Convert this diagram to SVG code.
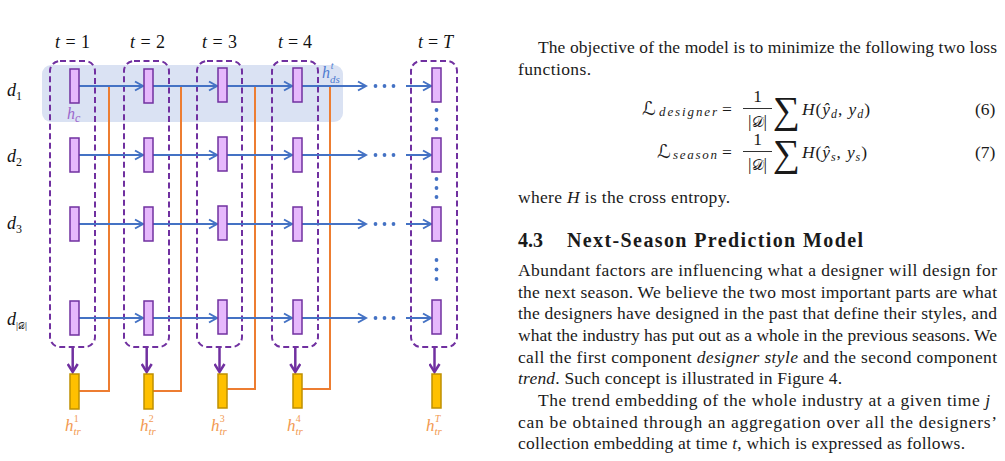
<svg xmlns="http://www.w3.org/2000/svg" width="1005" height="461" viewBox="0 0 1005 461">
<style>
.bg{fill:#dae2f3}
.box{fill:none;stroke:#7030a0;stroke-width:2;stroke-dasharray:6 3.5}
.nd{fill:#e6b8fc;stroke:#7030a0;stroke-width:1.5}
.tr{fill:#ffc000;stroke:#bf9000;stroke-width:1.5}
.ba{fill:none;stroke:#4472c4;stroke-width:2;marker-end:url(#ab)}
.pa{fill:none;stroke:#7030a0;stroke-width:2.5;marker-end:url(#ap)}
.ol{fill:none;stroke:#ed7d31;stroke-width:2}
.dot{fill:#4472c4}
.lab{font-family:"Liberation Serif",serif;font-size:18px;fill:#111}
.it{font-style:italic}
.hc{font-family:"Liberation Serif",serif;font-style:italic;fill:#9a66cc}
.hd{font-family:"Liberation Serif",serif;font-style:italic;fill:#4f7bd0}
.ht{font-family:"Liberation Serif",serif;font-style:italic;fill:#f29a52;font-size:17px}
.tx{font-family:"Liberation Serif",serif;font-size:17.5px;fill:#1a1a1a}
.hb{font-family:"Liberation Serif",serif;font-size:20px;font-weight:bold;fill:#1a1a1a}
.sc{font-family:"DejaVu Serif","DejaVu Sans",serif;fill:#1a1a1a}
</style>
<defs>
<marker id="ab" viewBox="-10 -6 12 12" refX="0" refY="0" markerWidth="12" markerHeight="12" markerUnits="userSpaceOnUse" orient="auto"><path d="M-8,-4.5 L0,0 L-8,4.5" fill="none" stroke="#4472c4" stroke-width="2"/></marker>
<marker id="ap" viewBox="-10 -6 12 12" refX="0" refY="0" markerWidth="12" markerHeight="12" markerUnits="userSpaceOnUse" orient="auto"><path d="M-8,-5 L0,0 L-8,5" fill="none" stroke="#7030a0" stroke-width="2.5"/></marker>
</defs>

<g id="designer-style-band"><rect class="bg" x="42" y="65" width="301" height="57" rx="9"/></g>

<g id="time-labels" class="lab">
<text x="55" y="48" textLength="35"><tspan class="it">t</tspan> = 1</text>
<text x="130" y="48" textLength="35"><tspan class="it">t</tspan> = 2</text>
<text x="202" y="48" textLength="35"><tspan class="it">t</tspan> = 3</text>
<text x="278" y="48" textLength="34"><tspan class="it">t</tspan> = 4</text>
<text x="418" y="48" textLength="35"><tspan class="it">t</tspan> = <tspan class="it">T</tspan></text>
</g>

<g id="designer-labels" class="lab">
<text x="7" y="96"><tspan class="it">d</tspan><tspan font-size="12" dy="4">1</tspan></text>
<text x="7" y="162"><tspan class="it">d</tspan><tspan font-size="12" dy="4">2</tspan></text>
<text x="7" y="229"><tspan class="it">d</tspan><tspan font-size="12" dy="4">3</tspan></text>
<text x="7" y="325"><tspan class="it">d</tspan><tspan font-size="10" dy="4">|<tspan class="sc" font-size="9">𝒟</tspan>|</tspan></text>
</g>

<g id="time-boxes">
<rect id="box-t1" class="box" x="50" y="61" width="45" height="286" rx="10"/>
<rect id="box-t2" class="box" x="124" y="61" width="45" height="286" rx="10"/>
<rect id="box-t3" class="box" x="197" y="61" width="45" height="286" rx="10"/>
<rect id="box-t4" class="box" x="272" y="61" width="46" height="286" rx="10"/>
<rect id="box-tT" class="box" x="411" y="61" width="46" height="286" rx="10"/>
</g>

<g id="connectors">
<g id="trend-links">
<path class="ol" d="M109,86 V391 H79"/>
<path class="ol" d="M181,86 V391 H153"/>
<path class="ol" d="M255,86 V389 H227"/>
<path class="ol" d="M330,86 V389 H302"/>
</g>
<g id="style-arrows">
<path class="ba" d="M79,86 H143"/><path class="ba" d="M153,86 H217"/><path class="ba" d="M227,86 H292"/><path class="ba" d="M302,86 H366"/><path class="ba" d="M406,86 H431"/>
<path class="ba" d="M79,155 H143"/><path class="ba" d="M153,155 H217"/><path class="ba" d="M227,155 H292"/><path class="ba" d="M302,155 H366"/><path class="ba" d="M406,155 H431"/>
<path class="ba" d="M79,224 H143"/><path class="ba" d="M153,224 H217"/><path class="ba" d="M227,224 H292"/><path class="ba" d="M302,224 H366"/><path class="ba" d="M406,224 H431"/>
<path class="ba" d="M79,318 H143"/><path class="ba" d="M153,318 H217"/><path class="ba" d="M227,318 H292"/><path class="ba" d="M302,318 H366"/><path class="ba" d="M406,318 H431"/>
</g>
<g id="aggregate-arrows">
<path class="pa" d="M72.7,348 V372"/>
<path class="pa" d="M146.7,348 V372"/>
<path class="pa" d="M219.5,348 V372"/>
<path class="pa" d="M295.3,348 V372"/>
<path class="pa" d="M434.5,348 V372"/>
</g>
<g id="ellipses" class="dot">
<circle cx="375.5" cy="86" r="1.9"/><circle cx="384.5" cy="86" r="1.9"/><circle cx="393.5" cy="86" r="1.9"/>
<circle cx="375.5" cy="155" r="1.9"/><circle cx="384.5" cy="155" r="1.9"/><circle cx="393.5" cy="155" r="1.9"/>
<circle cx="375.5" cy="224" r="1.9"/><circle cx="384.5" cy="224" r="1.9"/><circle cx="393.5" cy="224" r="1.9"/>
<circle cx="375.5" cy="318" r="1.9"/><circle cx="384.5" cy="318" r="1.9"/><circle cx="393.5" cy="318" r="1.9"/>
<circle cx="436.5" cy="110" r="1.9"/><circle cx="436.5" cy="119.5" r="1.9"/><circle cx="436.5" cy="129" r="1.9"/>
<circle cx="436.5" cy="179" r="1.9"/><circle cx="436.5" cy="188" r="1.9"/><circle cx="436.5" cy="197" r="1.9"/>
<circle cx="436.5" cy="260" r="1.9"/><circle cx="436.5" cy="269.5" r="1.9"/><circle cx="436.5" cy="279" r="1.9"/>
</g>
</g>

<g id="nodes-t1">
<rect id="n-d1-t1" class="nd" x="70" y="69" width="9" height="34"/>
<rect id="n-d2-t1" class="nd" x="70" y="138" width="9" height="34"/>
<rect id="n-d3-t1" class="nd" x="70" y="207" width="9" height="34"/>
<rect id="n-dD-t1" class="nd" x="70" y="301" width="9" height="34"/>
</g>
<g id="nodes-t2">
<rect id="n-d1-t2" class="nd" x="144" y="69" width="9" height="34"/>
<rect id="n-d2-t2" class="nd" x="144" y="138" width="9" height="34"/>
<rect id="n-d3-t2" class="nd" x="144" y="207" width="9" height="34"/>
<rect id="n-dD-t2" class="nd" x="144" y="301" width="9" height="34"/>
</g>
<g id="nodes-t3">
<rect id="n-d1-t3" class="nd" x="218" y="68" width="9" height="34"/>
<rect id="n-d2-t3" class="nd" x="218" y="137" width="9" height="34"/>
<rect id="n-d3-t3" class="nd" x="218" y="206" width="9" height="34"/>
<rect id="n-dD-t3" class="nd" x="218" y="300" width="9" height="34"/>
</g>
<g id="nodes-t4">
<rect id="n-d1-t4" class="nd" x="293" y="68" width="9" height="34"/>
<rect id="n-d2-t4" class="nd" x="293" y="138" width="9" height="34"/>
<rect id="n-d3-t4" class="nd" x="293" y="207" width="9" height="34"/>
<rect id="n-dD-t4" class="nd" x="293" y="300" width="9" height="34"/>
</g>
<g id="nodes-tT">
<rect id="n-d1-tT" class="nd" x="432" y="68" width="9" height="34"/>
<rect id="n-d2-tT" class="nd" x="432" y="138" width="9" height="34"/>
<rect id="n-d3-tT" class="nd" x="432" y="207" width="9" height="34"/>
<rect id="n-dD-tT" class="nd" x="432" y="300" width="9" height="34"/>
</g>

<g id="trend-nodes">
<g id="trend-t1"><rect class="tr" x="70" y="374" width="9" height="35"/></g>
<g id="trend-t2"><rect class="tr" x="144" y="374" width="9" height="35"/></g>
<g id="trend-t3"><rect class="tr" x="218" y="374" width="9" height="34"/></g>
<g id="trend-t4"><rect class="tr" x="293" y="374" width="9" height="34"/></g>
<g id="trend-tT"><rect class="tr" x="432" y="374" width="9" height="34"/></g>
</g>

<g id="emb-labels">
<text class="hc" x="67" y="119" font-size="16">h<tspan font-size="12" dy="3">c</tspan></text>
<text class="hd" x="322" y="78" font-size="16">h<tspan font-size="11" dy="5">ds</tspan><tspan font-size="10" dx="-9" dy="-14">t</tspan></text>
<g class="ht">
<text x="65" y="431">h<tspan font-size="11" dy="4">tr</tspan><tspan font-size="10" font-style="normal" dx="-7" dy="-13.5">1</tspan></text>
<text x="140" y="431">h<tspan font-size="11" dy="4">tr</tspan><tspan font-size="10" font-style="normal" dx="-7" dy="-13.5">2</tspan></text>
<text x="211" y="431">h<tspan font-size="11" dy="4">tr</tspan><tspan font-size="10" font-style="normal" dx="-7" dy="-13.5">3</tspan></text>
<text x="287" y="431">h<tspan font-size="11" dy="4">tr</tspan><tspan font-size="10" font-style="normal" dx="-7" dy="-13.5">4</tspan></text>
<text x="426" y="431">h<tspan font-size="11" dy="4">tr</tspan><tspan font-size="10" dx="-7" dy="-13.5">T</tspan></text>
</g>
</g>

<g id="body-text" class="tx">
<text x="538" y="53" textLength="459" lengthAdjust="spacing">The objective of the model is to minimize the following two loss</text>
<text x="518" y="75" textLength="73">functions.</text>

<text class="sc" x="642" y="115" font-size="19">ℒ</text>
<text x="659" y="116" font-size="13" class="it" textLength="58">designer</text>
<text x="722" y="115">=</text>
<text x="757.5" y="102" text-anchor="middle">1</text>
<line x1="743" y1="108.5" x2="772" y2="108.5" stroke="#1a1a1a" stroke-width="0.9"/>
<text x="757.5" y="127" text-anchor="middle">|<tspan class="sc" font-size="15">𝒟</tspan>|</text>
<text x="773" y="123" font-size="38">∑</text>
<text x="802" y="115" textLength="68"><tspan class="it">H</tspan>(<tspan class="it">ŷ</tspan><tspan class="it" font-size="12" dy="3">d</tspan><tspan dy="-3">, </tspan><tspan class="it">y</tspan><tspan class="it" font-size="12" dy="3">d</tspan><tspan dy="-3">)</tspan></text>
<text x="975" y="115">(6)</text>

<text class="sc" x="657" y="158" font-size="19">ℒ</text>
<text x="673" y="159" font-size="13" class="it" textLength="44">season</text>
<text x="722" y="158">=</text>
<text x="757.5" y="145" text-anchor="middle">1</text>
<line x1="743" y1="151.5" x2="772" y2="151.5" stroke="#1a1a1a" stroke-width="0.9"/>
<text x="757.5" y="170" text-anchor="middle">|<tspan class="sc" font-size="15">𝒟</tspan>|</text>
<text x="773" y="166" font-size="38">∑</text>
<text x="802" y="158" textLength="65"><tspan class="it">H</tspan>(<tspan class="it">ŷ</tspan><tspan class="it" font-size="12" dy="3">s</tspan><tspan dy="-3">, </tspan><tspan class="it">y</tspan><tspan class="it" font-size="12" dy="3">s</tspan><tspan dy="-3">)</tspan></text>
<text x="975" y="158">(7)</text>

<text x="518" y="203" textLength="212">where <tspan class="it">H</tspan> is the cross entropy.</text>

<text class="hb" x="518" y="247">4.3</text>
<text class="hb" x="567" y="247" textLength="296">Next-Season Prediction Model</text>

<text x="518" y="276" textLength="479" lengthAdjust="spacing">Abundant factors are influencing what a designer will design for</text>
<text x="518" y="297.7" textLength="479" lengthAdjust="spacing">the next season. We believe the two most important parts are what</text>
<text x="518" y="319.3" textLength="479" lengthAdjust="spacing">the designers have designed in the past that define their styles, and</text>
<text x="518" y="341" textLength="479" lengthAdjust="spacing">what the industry has put out as a whole in the previous seasons. We</text>
<text x="518" y="362.7" textLength="479" lengthAdjust="spacing">call the first component <tspan class="it">designer style</tspan> and the second component</text>
<text x="518" y="384.3" textLength="324" lengthAdjust="spacing"><tspan class="it">trend</tspan>. Such concept is illustrated in Figure 4.</text>
<text x="538" y="406" textLength="452" lengthAdjust="spacing">The trend embedding of the whole industry at a given time <tspan class="it">j</tspan></text>
<text x="518" y="427.7" textLength="479" lengthAdjust="spacing">can be obtained through an aggregation over all the designers’</text>
<text x="518" y="449.3" textLength="447" lengthAdjust="spacing">collection embedding at time <tspan class="it">t</tspan>, which is expressed as follows.</text>
</g>
</svg>
